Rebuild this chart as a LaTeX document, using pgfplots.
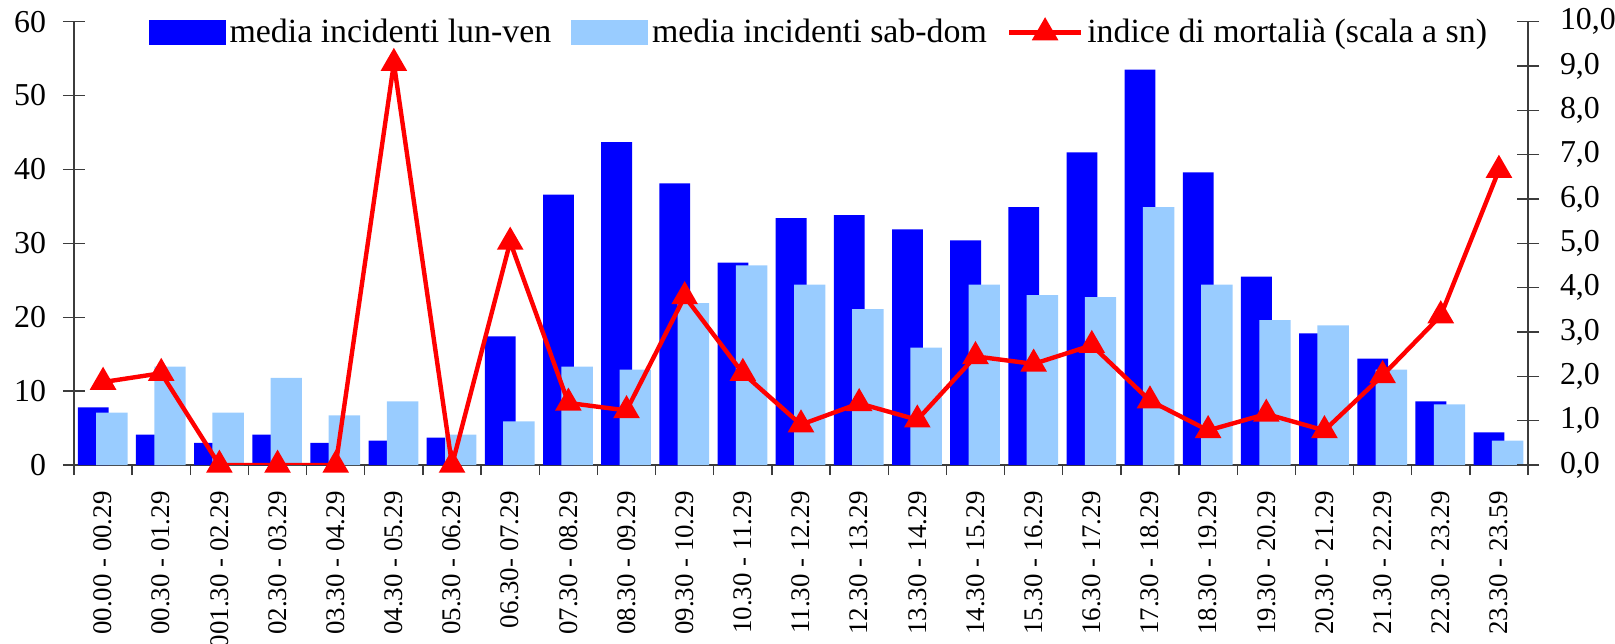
\documentclass[border=0pt]{standalone}
\usepackage{pgfplots}
\pgfplotsset{compat=1.18}
\usepackage{fontspec}
\setmainfont{Liberation Serif}
\definecolor{dblue}{RGB}{0,0,255}
\definecolor{lblue}{RGB}{153,204,255}
\definecolor{axgray}{RGB}{60,60,60}
\begin{document}
\begin{tikzpicture}
\pgfplotsset{
  common/.style={
    scale only axis, width=727bp, height=221.7bp, at={(0,0)}, anchor=south west,
    xmin=-0.5, xmax=24.5,
    axis line style={axgray, line width=0.9pt},
    tick style={axgray, line width=0.7pt},
    major tick length=11bp,
    ticklabel style={font=\fontsize{16}{16}\selectfont},
    /pgf/number format/assume math mode=true,
  }
}
\begin{axis}[common,
  ymin=0, ymax=60, ytick={0,10,...,60},
  axis y line*=left, axis x line*=bottom,
  ytick align=center,
  xtick align=outside,
  yticklabel style={xshift=-5bp},
  xtick={-0.5,0.5,...,24.5},
  x tick label as interval,
  xticklabels={00.00 - 00.29, 00.30 - 01.29, 001.30 - 02.29, 02.30 - 03.29, 03.30 - 04.29, 04.30 - 05.29, 05.30 - 06.29, 06.30- 07.29, 07.30 - 08.29, 08.30 - 09.29, 09.30 - 10.29, 10.30 - 11.29, 11.30 - 12.29, 12.30 - 13.29, 13.30 - 14.29, 14.30 - 15.29, 15.30 - 16.29, 16.30 - 17.29, 17.30 - 18.29, 18.30 - 19.29, 19.30 - 20.29, 20.30 - 21.29, 21.30 - 22.29, 22.30 - 23.29, 23.30 - 23.59},
  xticklabel style={rotate=90, anchor=east, inner sep=0pt, font=\fontsize{13.5}{13.5}\selectfont},
  xticklabel shift=2bp,
  x tick style={/pgfplots/major tick length=5bp},
]
\addplot[ybar, bar width=0.53, bar shift=-0.17, fill=dblue, draw=none] coordinates {
(0,7.8) (1,4.1) (2,3.0) (3,4.1) (4,3.0) (5,3.3) (6,3.7) (7,17.4) (8,36.6) (9,43.7)
(10,38.1) (11,27.4) (12,33.4) (13,33.8) (14,31.9) (15,30.4) (16,34.9) (17,42.3) (18,53.5) (19,39.6)
(20,25.5) (21,17.8) (22,14.4) (23,8.6) (24,4.4)};
\addplot[ybar, bar width=0.54, bar shift=0.15, fill=lblue, draw=none] coordinates {
(0,7.1) (1,13.3) (2,7.1) (3,11.8) (4,6.7) (5,8.6) (6,4.1) (7,5.9) (8,13.3) (9,12.9)
(10,21.9) (11,27.0) (12,24.4) (13,21.1) (14,15.9) (15,24.4) (16,23.0) (17,22.7) (18,34.9) (19,24.4)
(20,19.6) (21,18.9) (22,12.9) (23,8.2) (24,3.3)};
\end{axis}
\begin{axis}[common,
  ymin=0, ymax=10, ytick={0,1,...,10},
  axis y line*=right, axis x line=none,
  ytick align=center,
  yticklabel style={xshift=7bp},
  y tick label style={/pgf/number format/.cd, fixed, fixed zerofill, precision=1, use comma},
  legend columns=3,
  legend style={draw=none, fill=none, at={(0.513,1.024)}, anchor=north,
    font=\fontsize{17}{17}\selectfont,
    /tikz/every even column/.append style={column sep=8bp}},
]
\addlegendimage{legend image code/.code={\fill[dblue] (0bp,-6bp) rectangle (38bp,6bp);}}
\addlegendentry{media incidenti lun-ven}
\addlegendimage{legend image code/.code={\fill[lblue] (0bp,-6bp) rectangle (38bp,6bp);}}
\addlegendentry{media incidenti sab-dom}
\addplot[red, line width=2.2bp, mark=triangle*, mark size=5.5bp,
  legend image code/.code={\draw[mark repeat=2, mark phase=2] plot coordinates {(0bp,0bp) (18bp,0bp) (36bp,0bp)};}]
 coordinates {
(0,1.87) (1,2.07) (2,0) (3,0) (4,0) (5,9.06) (6,0) (7,5.03) (8,1.4) (9,1.23)
(10,3.8) (11,2.07) (12,0.91) (13,1.39) (14,1.02) (15,2.45) (16,2.28) (17,2.7) (18,1.45) (19,0.78)
(20,1.15) (21,0.78) (22,2.02) (23,3.37) (24,6.65)};
\addlegendentry{indice di mortalià (scala a sn)}
\end{axis}
\pgfresetboundingbox
\useasboundingbox (-37bp,-89.5bp) rectangle (770.5bp,232.5bp);
\end{tikzpicture}
\end{document}
